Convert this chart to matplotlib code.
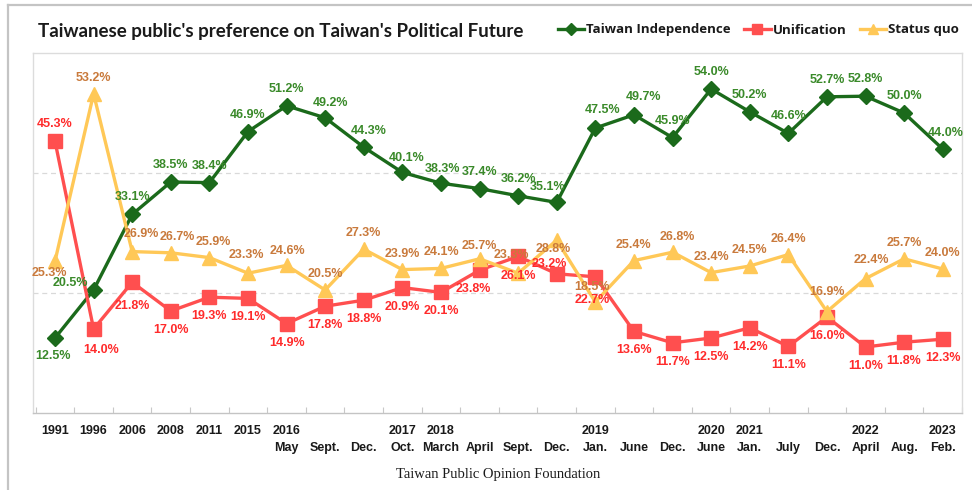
import matplotlib
matplotlib.use("Agg")
import matplotlib.pyplot as plt
from matplotlib.lines import Line2D

# ---------------- data ----------------
year_labels = ["1991", "1996", "2006", "2008", "2011", "2015", "2016", "", "",
               "2017", "2018", "", "", "", "2019", "", "", "2020", "2021", "",
               "", "2022", "", "2023"]
month_labels = ["", "", "", "", "", "", "May", "Sept.", "Dec.",
                "Oct.", "March", "April", "Sept.", "Dec.", "Jan.", "June", "Dec.",
                "June", "Jan.", "July", "Dec.", "April", "Aug.", "Feb."]

independence = [12.5, 20.5, 33.1, 38.5, 38.4, 46.9, 51.2, 49.2, 44.3, 40.1, 38.3, 37.4,
                36.2, 35.1, 47.5, 49.7, 45.9, 54.0, 50.2, 46.6, 52.7, 52.8, 50.0, 44.0]
unification = [45.3, 14.0, 21.8, 17.0, 19.3, 19.1, 14.9, 17.8, 18.8, 20.9, 20.1, 23.8,
               26.1, 23.2, 22.7, 13.6, 11.7, 12.5, 14.2, 11.1, 16.0, 11.0, 11.8, 12.3]
status_quo = [25.3, 53.2, 26.9, 26.7, 25.9, 23.3, 24.6, 20.5, 27.3, 23.9, 24.1, 25.7,
              23.3, 28.8, 18.5, 25.4, 26.8, 23.4, 24.5, 26.4, 16.9, 22.4, 25.7, 24.0]

series_names = ["Taiwan Independence", "Unification", "Status quo"]
title_text = "Taiwanese public's preference on Taiwan's Political Future"
source_text = "Taiwan Public Opinion Foundation"

# ---------------- label placement (pixels, style only) ----------------
ind_off = {0: (-2, -18), 1: (-23, 7), 8: (5, 16), 9: (4, 14), 10: (2, 14),
           13: (-9, 15), 23: (3, 16), 7: (5, 15), 14: (7, 18), 15: (10, 18)}
uni_off = {0: (0, 17), 1: (8, -21), 2: (0, -24), 11: (-6, -19), 12: (0, -20),
           13: (-7, 10), 14: (-3, -23)}
sq_off = {0: (-6, -12), 2: (9, 18), 3: (7, 16), 4: (4, 16), 5: (-2, 18), 6: (1, 14),
          11: (0, 13), 12: (-7, 18), 13: (-3, -9), 14: (-3, 15), 16: (5, 15),
          20: (0, 20), 21: (6, 19)}

W, H = 972, 490
fig = plt.figure(figsize=(W / 100, H / 100), dpi=100)
fig.patch.set_facecolor("white")

ax = fig.add_axes([33 / W, (H - 413) / H, (962 - 33) / W, (413 - 53) / H])
x = list(range(len(independence)))

c_ind, c_ind_lab = "#1b6a1b", "#3a8a2a"
c_uni, c_uni_lab = "#ff4f4f", "#ff2b2b"
c_sq, c_sq_lab = "#ffc857", "#c97a3c"

l1, = ax.plot(x, independence, color=c_ind, lw=2.4, marker="D", ms=8.5,
              mfc=c_ind, mec=c_ind, zorder=3, label=series_names[0])
l2, = ax.plot(x, unification, color=c_uni, lw=2.4, marker="s", ms=9.5,
              mfc=c_uni, mec=c_uni, zorder=4, label=series_names[1])
l3, = ax.plot(x, status_quo, color=c_sq, lw=2.4, marker="^", ms=10,
              mfc=c_sq, mec=c_sq, zorder=5, label=series_names[2])

lab_font = dict(family=["Liberation Sans", "DejaVu Sans"], fontsize=9, fontweight="bold")


def annotate(vals, offs, default, color):
    for i, v in enumerate(vals):
        dx, dy = offs.get(i, default)
        ax.annotate(f"{v:.1f}%", (i, v), xytext=(dx, dy), textcoords="offset pixels",
                    ha="center", va="center", color=color, zorder=6, **lab_font)


annotate(independence, ind_off, (0, 17), c_ind_lab)
annotate(unification, uni_off, (0, -19), c_uni_lab)
annotate(status_quo, sq_off, (0, 16), c_sq_lab)

ax.set_ylim(0, 60)
ax.set_xlim(-0.57, 23.47)
ax.set_yticks([])
ax.set_xticks([i + 0.5 for i in range(-1, 24)])
ax.set_xticklabels([])
ax.tick_params(axis="x", direction="in", length=4, color="#c8c8c8", width=0.8)
for yv in (20, 40):
    ax.axhline(yv, color="#d9d9d9", lw=0.9, ls=(0, (4, 3)), zorder=1)
for s in ["top", "left", "right"]:
    ax.spines[s].set_color("#dcdcdc")
    ax.spines[s].set_linewidth(1.0)
ax.spines["bottom"].set_color("#c4c4c4")
ax.spines["bottom"].set_linewidth(1.0)

tick_font = dict(family=["Liberation Sans Narrow", "Liberation Sans", "DejaVu Sans"],
                 fontsize=9, fontweight="bold", color="#1a1a1a")
trans = ax.get_xaxis_transform()
for i in x:
    if year_labels[i]:
        ax.text(i, (413 - 431) / 360, year_labels[i], transform=trans, ha="center",
                va="center", **tick_font)
    if month_labels[i]:
        ax.text(i, (413 - 448) / 360, month_labels[i], transform=trans, ha="center",
                va="center", **tick_font)

fig.text(498 / W, 1 - 474 / H, source_text, ha="center", va="center",
         family=["Liberation Serif", "DejaVu Serif"], fontsize=10.5, color="#1a1a1a")

fig.text(38 / W, 1 - 37 / H, title_text, ha="left", va="baseline",
         family=["Lato", "DejaVu Sans"], fontsize=13.5, fontweight="bold", color="#1a1a1a")

leg = fig.legend(handles=[l1, l2, l3], loc="center left",
                 bbox_to_anchor=(558 / W, 1 - 30 / H), ncol=3, frameon=False,
                 prop=dict(family=["Open Sans", "DejaVu Sans"], size=9.5, weight="bold"),
                 handlelength=2.0, handletextpad=0.15, columnspacing=1.0,
                 borderpad=0, borderaxespad=0, markerscale=0.75)
for t in leg.get_texts():
    t.set_color("#1a1a1a")

# outer frame
fig.add_artist(Line2D([8 / W, 8 / W], [0, 1 - 5 / H], transform=fig.transFigure,
                      color="#c4c4c4", lw=1.6))
fig.add_artist(Line2D([8 / W, 1], [1 - 5 / H, 1 - 5 / H], transform=fig.transFigure,
                      color="#c4c4c4", lw=1.6))

fig.savefig("out.png", dpi=100, facecolor="white")
